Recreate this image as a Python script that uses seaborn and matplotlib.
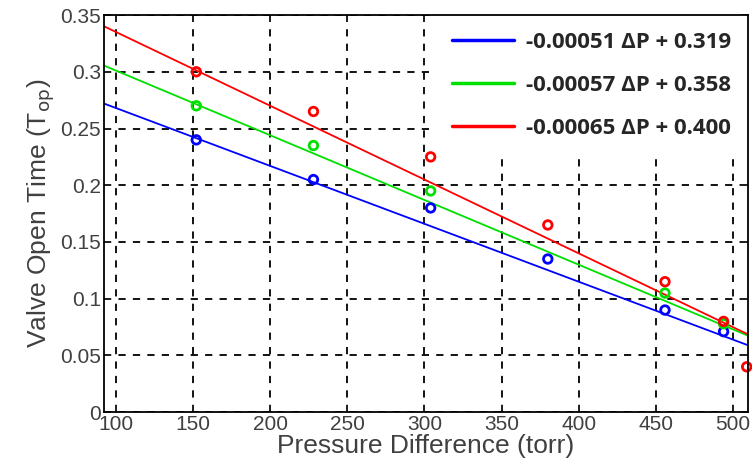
import numpy as np
import pandas as pd
import seaborn as sns
import matplotlib.pyplot as plt

# measured points (pressure difference in torr, valve open time)
blue_dp = [152, 228, 304, 380, 456, 494]
blue_t = [0.240, 0.205, 0.180, 0.135, 0.090, 0.071]
green_dp = [152, 228, 304, 456, 494]
green_t = [0.270, 0.235, 0.195, 0.105, 0.078]
red_dp = [152, 228, 304, 380, 456, 494, 509]
red_t = [0.300, 0.265, 0.225, 0.165, 0.115, 0.080, 0.040]

# fitted lines
slopes = [-0.00051, -0.00057, -0.00065]
intercepts = [0.319, 0.358, 0.400]
fit_labels = ["-0.00051 \u0394P + 0.319", "-0.00057 \u0394P + 0.358", "-0.00065 \u0394P + 0.400"]
colors = ["#0000ff", "#00e000", "#ff0000"]

x_ticks = [100, 150, 200, 250, 300, 350, 400, 450, 500]
y_ticks = [0, 0.05, 0.1, 0.15, 0.2, 0.25, 0.3, 0.35]
y_tick_labels = ["0", "0.05", "0.1", "0.15", "0.2", "0.25", "0.3", "0.35"]

sns.set_style("ticks")
plt.rcParams['font.family'] = ['Liberation Sans', 'DejaVu Sans']

fig = plt.figure(figsize=(7.52, 4.70), dpi=100)
ax = fig.add_axes([0.138, 0.123, 0.857, 0.845])
xlim = (92, 510)

for dp, t, c in zip([blue_dp, green_dp, red_dp], [blue_t, green_t, red_t], colors):
    sns.scatterplot(x=dp, y=t, ax=ax, marker="o", s=38, facecolor="none",
                    edgecolor=c, linewidth=2, zorder=6, clip_on=False)

xs = np.array(xlim)
for m, b, lab, c in zip(slopes, intercepts, fit_labels, colors):
    sns.lineplot(x=xs, y=m * xs + b, ax=ax, color=c, lw=1.3, label=lab, zorder=3)

ax.set_xlim(*xlim)
ax.set_ylim(0, 0.35)
ax.set_xticks(x_ticks)
ax.set_yticks(y_ticks)
ax.set_yticklabels(y_tick_labels)
ax.grid(True, color="black", linestyle=(0, (4, 4)), linewidth=1.3)
ax.tick_params(direction="in", top=True, right=True, length=5, width=1.2,
               labelsize=15, labelcolor="#404040", pad=2)
for s in ax.spines.values():
    s.set_linewidth(1.3)
    s.set_color("black")
    s.set_zorder(7)

ax.set_xlabel("Pressure Difference (torr)", fontsize=19, color="#404040", labelpad=0)
ax.set_ylabel("Valve Open Time (T$_{\\mathrm{op}}$)", fontsize=19, color="#404040", labelpad=2)

leg = ax.legend(loc="upper right", borderaxespad=0, fancybox=False, framealpha=1,
                edgecolor="white", handlelength=2.8, handletextpad=0.55,
                labelspacing=1.0, borderpad=0.75,
                prop={"weight": "bold", "size": 16, "family": ["Open Sans", "DejaVu Sans"]})
leg.get_frame().set_linewidth(0)
leg.set_zorder(5)
for line in leg.get_lines():
    line.set_linewidth(2.5)

fig.savefig("out.png", dpi=100)
